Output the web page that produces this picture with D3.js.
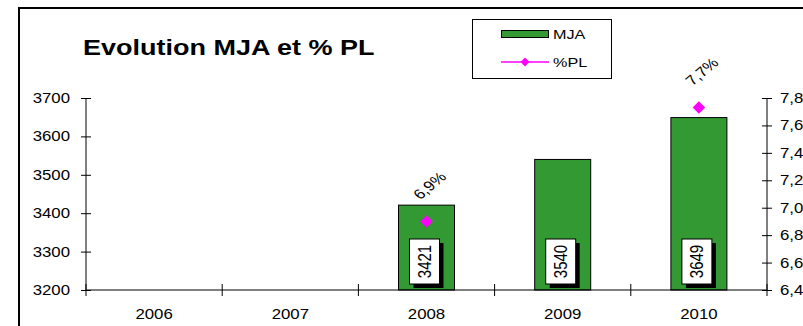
<!DOCTYPE html>
<html><head><meta charset="utf-8">
<script src="https://cdn.jsdelivr.net/npm/d3@7"></script>
<style>
body{margin:0;background:#fff;}
svg{display:block;font-family:"Liberation Sans",Arial,sans-serif;}
</style></head>
<body><svg id="c" width="803" height="326"></svg>
<script>
const years = ["2006","2007","2008","2009","2010"];
const mja = [null, null, 3421, 3540, 3649];
const pl = [null, null, 6.9, null, 7.73];
const leftTicks = [3200,3300,3400,3500,3600,3700];
const rightTicks = [6.4,6.6,6.8,7.0,7.2,7.4,7.6,7.8];
const title = "Evolution MJA et % PL";
const seriesNames = ["MJA","%PL"];

const GREEN = "#339933", MAG = "#ff00ff";
const FONT = "Liberation Sans, Arial, sans-serif";
const SX = 1.2; // horizontal stretch of the reference rendering
const svg = d3.select("#c");
svg.append("rect").attr("width",803).attr("height",326).attr("fill","#fff");
// outer frame
svg.append("rect").attr("x",19).attr("y",8).attr("width",820).attr("height",360)
  .attr("fill","none").attr("stroke","#000").attr("stroke-width",2);

const L = 86, R = 767, T = 98, B = 290;
const x = d3.scaleBand().domain(years).range([L,R]).padding(0);
const yL = d3.scaleLinear().domain([3200,3700]).range([B,T]);
const yR = d3.scaleLinear().domain([6.4,7.8]).range([B,T]);

// title
svg.append("text").attr("transform",`translate(83,55) scale(${SX},1)`)
  .attr("font-size",22.5).attr("font-weight","bold").text(title);

// bars
const bw = 56;
const data = years.map((y,i)=>({y, m:mja[i], p:pl[i]}));
svg.append("g").selectAll("rect").data(data.filter(d=>d.m!=null)).join("rect")
  .attr("x",d=>x(d.y)+x.bandwidth()/2-bw/2).attr("width",bw)
  .attr("y",d=>yL(d.m)).attr("height",d=>B-yL(d.m))
  .attr("fill",GREEN).attr("stroke","#000").attr("stroke-width",1);

// left axis
const gl = svg.append("g").attr("transform",`translate(${L},0)`)
  .call(d3.axisLeft(yL).tickValues(leftTicks).tickSize(5).tickPadding(11).tickFormat(d3.format("d")));
gl.selectAll(".tick line").attr("x1",5);
gl.select(".domain").attr("d",`M0,${T}V${B}`);
gl.selectAll("text").attr("font-size",14).attr("font-family",FONT).attr("fill","#000")
  .attr("x",-16/SX).attr("transform",`scale(${SX},1)`);

// right axis
const gr = svg.append("g").attr("transform",`translate(${R},0)`)
  .call(d3.axisRight(yR).tickValues(rightTicks).tickSize(5).tickPadding(8)
    .tickFormat(d=>d.toFixed(1).replace(".",",")));
gr.selectAll(".tick line").attr("x1",-5);
gr.select(".domain").attr("d",`M0,${T}V${B}`);
gr.selectAll("text").attr("font-size",14).attr("font-family",FONT).attr("fill","#000")
  .attr("x",13/SX).attr("transform",`scale(${SX},1)`);

// bottom axis
const gb = svg.append("g").attr("transform",`translate(0,${B})`)
  .call(d3.axisBottom(x).tickSize(0).tickPadding(19));
gb.select(".domain").attr("d",`M${L},0H${R}`);
gb.selectAll("text").attr("font-size",14).attr("font-family",FONT).attr("fill","#000")
  .attr("transform",`scale(${SX},1)`);
const bounds = years.map(d=>x(d)).concat([x(years[years.length-1])+x.bandwidth()]);
gb.selectAll(".bt").data(bounds).join("line").attr("class","bt")
  .attr("x1",d=>d).attr("x2",d=>d).attr("y1",-6).attr("y2",6).attr("stroke","#000");

// value boxes in bars
const vb = svg.append("g").selectAll("g").data(data.filter(d=>d.m!=null)).join("g")
  .attr("transform",d=>`translate(${x(d.y)+x.bandwidth()/2-2},${B-6})`);
vb.append("rect").attr("x",-15+4).attr("y",-45+4).attr("width",30).attr("height",45).attr("fill","#000");
vb.append("rect").attr("x",-15).attr("y",-45).attr("width",30).attr("height",45)
  .attr("fill","#fff").attr("stroke","#000").attr("stroke-width",1);
vb.append("text").attr("transform",`translate(0,-22.5) scale(${SX},1) rotate(-90)`)
  .attr("text-anchor","middle").attr("dy","0.35em").attr("font-size",15)
  .text(d=>d3.format("d")(d.m));

// diamonds
const dm = data.filter(d=>d.p!=null);
const diamond = d3.symbol().type(d3.symbolDiamond2).size(100);
svg.append("g").selectAll("path").data(dm).join("path")
  .attr("d",diamond)
  .attr("transform",d=>`translate(${x(d.y)+x.bandwidth()/2},${yR(d.p)})`)
  .attr("fill",MAG);
svg.append("g").selectAll("text").data(dm).join("text")
  .attr("transform",d=>`translate(${x(d.y)+x.bandwidth()/2+3},${yR(d.p)-36}) scale(${SX},1) rotate(-45)`)
  .attr("text-anchor","middle").attr("dy","0.35em").attr("font-size",14)
  .text(d=>d.p.toFixed(1).replace(".",",")+"%");

// legend
const lg = svg.append("g");
lg.append("rect").attr("x",472.5).attr("y",19.5).attr("width",139).attr("height",59)
  .attr("fill","#fff").attr("stroke","#000");
lg.append("rect").attr("x",501.5).attr("y",30.5).attr("width",47).attr("height",7)
  .attr("fill",GREEN).attr("stroke","#000");
lg.append("text").attr("transform",`translate(553,39) scale(${SX},1)`).attr("font-size",13.5).text(seriesNames[0]);
lg.append("line").attr("x1",501).attr("x2",549).attr("y1",62).attr("y2",62)
  .attr("stroke",MAG).attr("stroke-width",1.5);
lg.append("path").attr("d",d3.symbol().type(d3.symbolDiamond2).size(50))
  .attr("transform","translate(525,62)").attr("fill",MAG);
lg.append("text").attr("transform",`translate(553,67) scale(${SX},1)`).attr("font-size",13.5).text(seriesNames[1]);
</script></body></html>
